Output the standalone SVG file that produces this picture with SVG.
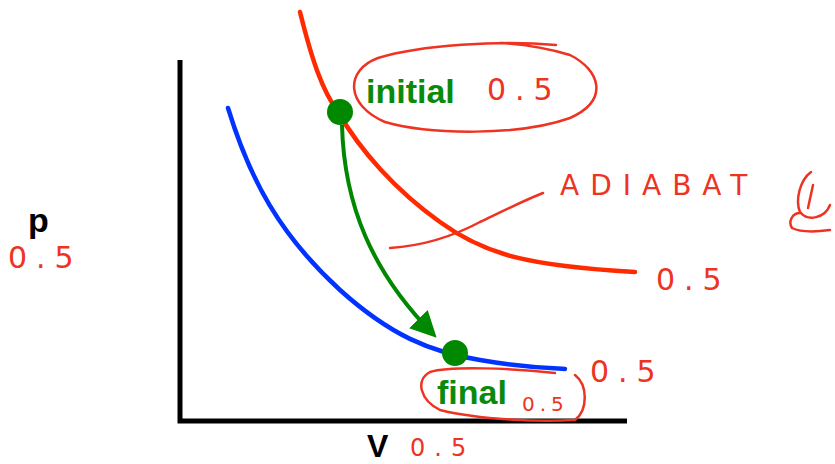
<svg xmlns="http://www.w3.org/2000/svg" width="835" height="464" viewBox="0 0 835 464">
<style>
.ax{fill:none;stroke:#000;stroke-width:5}
.lbl{font-family:"Liberation Sans",Arial,sans-serif;font-weight:bold;fill:#000;font-size:34px}
.st{font-family:"Liberation Sans",Arial,sans-serif;font-weight:bold;fill:#0a8a0a;font-size:34px}
.hw{font-family:"DejaVu Sans",sans-serif;fill:#ee3322;font-size:30px;letter-spacing:9px}
.ink{fill:none;stroke:#ee3322;stroke-width:2.5;stroke-linecap:round;stroke-linejoin:round}
.dot{fill:#008800}
</style>
<defs>
<marker id="ah" viewBox="0 0 10 10" refX="8" refY="5" markerWidth="6.5" markerHeight="6.5" orient="auto" markerUnits="strokeWidth">
<path d="M0,0 L10,5 L0,10 z" fill="#008800"/>
</marker>
</defs>
<g id="axes">
<path class="ax" d="M180,60 V421 H627"/>
</g>
<g id="labels">
<text class="lbl" x="28" y="232">p</text>
<text class="lbl" x="367" y="457" style="font-size:32px">V</text>
</g>
<g id="adiabat">
<path d="M300,12 C312,60 322,90 338,112 C360,150 395,190 440,222 C485,255 530,266 635,272" fill="none" stroke="#ff2a00" stroke-width="4.5" stroke-linecap="round"/>
</g>
<g id="isotherm">
<path d="M228,108 C250,180 280,235 340,290 C390,335 430,352 480,360 C520,367 545,368 565,369" fill="none" stroke="#0033ff" stroke-width="4.5" stroke-linecap="round"/>
</g>
<g id="connectors">
<path d="M342,125 C344,205 372,272 433,334" fill="none" stroke="#008800" stroke-width="4" marker-end="url(#ah)"/>
</g>
<g id="initial">
<circle class="dot" cx="340" cy="112" r="13"/>
<text class="st" x="366" y="103">initial</text>
</g>
<g id="final">
<circle class="dot" cx="455" cy="353" r="13"/>
<text class="st" x="437" y="404">final</text>
</g>
<g id="annotations">
<path class="ink" d="M556,45 C500,40 420,45 378,58 C345,70 345,105 385,122 C430,135 520,136 570,118 C610,100 600,70 570,55 C540,46 520,44 500,43"/>
<text class="hw" x="487" y="100">0.5</text>
<path class="ink" d="M390,248 C420,246 450,238 480,222 C505,210 525,200 543,193"/>
<text class="hw" x="560" y="195" style="letter-spacing:11px;font-size:28px">ADIABAT</text>
<path class="ink" d="M811,172 C800,180 795,200 800,212 C808,222 825,218 830,205"/>
<path class="ink" d="M813,185 L808,208"/>
<path class="ink" d="M800,213 C792,213 788,222 792,228 C800,232 815,232 830,230"/>
<text class="hw" x="8" y="268">0.5</text>
<text class="hw" x="656" y="290">0.5</text>
<text class="hw" x="590" y="382">0.5</text>
<path class="ink" d="M555,373 C510,368 450,366 430,372 C415,380 420,400 440,410 C480,420 540,422 575,420 C588,410 588,385 575,375"/>
<text class="hw" x="522" y="411" style="font-size:20px;letter-spacing:5px">0.5</text>
<text class="hw" x="410" y="456" style="font-size:24px">0.5</text>
</g>
</svg>
